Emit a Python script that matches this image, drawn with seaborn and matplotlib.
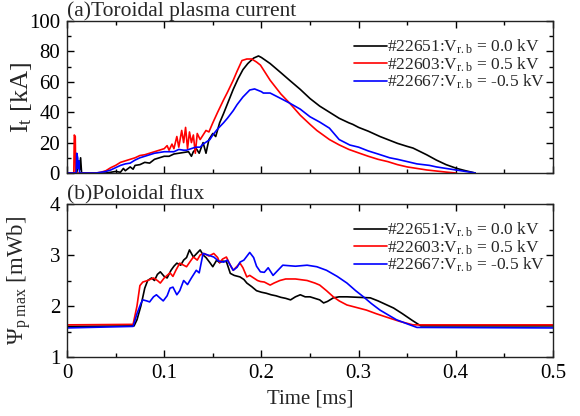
import numpy as np
import pandas as pd
import matplotlib
matplotlib.use("Agg")
import matplotlib.pyplot as plt
from matplotlib.ticker import MultipleLocator
import seaborn as sns

# ---------------- data ----------------
labels = ["#22651:V$_\\mathrm{r.b}$ = 0.0 kV",
          "#22603:V$_\\mathrm{r.b}$ = 0.5 kV",
          "#22667:V$_\\mathrm{r.b}$ = -0.5 kV"]
colors = ["black", "red", "blue"]

# (a) toroidal plasma current [kA]
t_a_22651 = [0, 0.010, 0.012, 0.013, 0.014, 0.015, 0.02, 0.03, 0.04, 0.045, 0.05, 0.055, 0.058, 0.06, 0.065,
             0.068, 0.07, 0.075, 0.08, 0.085, 0.09, 0.095, 0.1, 0.105, 0.11, 0.115, 0.12, 0.125, 0.128, 0.13,
             0.133, 0.136, 0.14, 0.143, 0.146, 0.15, 0.153, 0.157, 0.161, 0.166, 0.171, 0.176, 0.181,
             0.186, 0.192, 0.197, 0.2, 0.209, 0.22, 0.229, 0.24, 0.25, 0.26, 0.27, 0.28, 0.29, 0.294, 0.3,
             0.31, 0.322, 0.33, 0.34, 0.35, 0.356, 0.37, 0.38, 0.39, 0.401, 0.41, 0.42]
i_a_22651 = [0, 0, 8, 2, 10, 0, 0, 0, 0, 0.5, 1, 0.5, 3, 1.5, 4,
             2.5, 5, 5.5, 7, 6.5, 9, 10, 11, 11, 12.5, 13, 13.5, 14, 11, 14,
             16, 13, 20, 13, 22, 26, 24, 33, 39, 47, 55, 62, 68,
             72, 75.6, 77, 76, 72, 66, 61, 55, 49, 44, 40, 36, 33, 32, 30,
             27.5, 24, 22, 19.5, 17.5, 16.4, 12, 8.5, 5.5, 3, 1.5, 0]

t_a_22603 = [0, 0.007, 0.0075, 0.0085, 0.009, 0.02, 0.03, 0.035, 0.04, 0.045, 0.05, 0.055, 0.06, 0.065, 0.07,
             0.075, 0.08, 0.085, 0.09, 0.095, 0.1, 0.103, 0.105, 0.108, 0.11, 0.113, 0.115, 0.118, 0.12,
             0.122, 0.124, 0.126, 0.128, 0.13, 0.132, 0.134, 0.137, 0.14, 0.143, 0.146, 0.15, 0.155, 0.161,
             0.165, 0.171, 0.175, 0.18, 0.185, 0.19, 0.195, 0.199, 0.205, 0.209, 0.22, 0.229, 0.24, 0.25,
             0.257, 0.27, 0.28, 0.29, 0.301, 0.31, 0.32, 0.33, 0.34, 0.35, 0.36, 0.37, 0.38, 0.39, 0.40]
i_a_22603 = [0, 0, 25, 24, 0, 0, 0, 0.5, 1.5, 3.5, 5, 7, 8, 9, 10,
             11.5, 12, 13, 14, 15, 16, 18, 15, 19, 16, 24, 17, 28, 20,
             30, 16, 27, 20, 25, 13, 26, 22, 25, 28, 27, 33, 40, 48,
             53, 61, 67, 74, 75, 75, 73, 71, 65, 61, 52, 46, 38, 32,
             28, 22, 18.5, 15.5, 13, 11, 9, 7.5, 5.5, 4, 3, 2, 1.3, 0.6, 0]

t_a_22667 = [0, 0.0095, 0.010, 0.011, 0.0115, 0.012, 0.013, 0.02, 0.03, 0.04, 0.045, 0.05, 0.055, 0.06,
             0.065, 0.07, 0.075, 0.08, 0.085, 0.09, 0.095, 0.1, 0.103, 0.11, 0.115, 0.12, 0.123, 0.13,
             0.133, 0.137, 0.14, 0.147, 0.15, 0.155, 0.161, 0.165, 0.171, 0.175, 0.181, 0.188, 0.193,
             0.2, 0.202, 0.209, 0.22, 0.229, 0.24, 0.25, 0.26, 0.27, 0.28, 0.291, 0.3, 0.31, 0.32,
             0.332, 0.34, 0.35, 0.36, 0.373, 0.38, 0.39, 0.40, 0.41, 0.42]
i_a_22667 = [0, 0, 13, 10, 3, 8, 0, 0, 0, 1, 2, 3.5, 5, 6,
             6.5, 8.5, 10, 11, 12, 13, 13.5, 14, 14, 14, 15.5, 15, 15, 16.5,
             17, 17, 19, 22, 25, 29, 33, 36, 41, 45, 50, 54.6, 55.3,
             53.5, 52.6, 52.6, 49, 46, 42, 37, 33.5, 29.5, 22, 18.4, 17, 14.5, 12.5,
             10, 9, 7.5, 6, 5, 4, 3, 2, 1, 0]

# (b) poloidal flux [mWb]
t_b_22651 = [0, 0.069, 0.072, 0.076, 0.08, 0.083, 0.087, 0.09, 0.093, 0.096, 0.1, 0.103, 0.107, 0.11,
             0.113, 0.117, 0.12, 0.123, 0.126, 0.13, 0.133, 0.137, 0.14, 0.143, 0.147, 0.15, 0.154,
             0.157, 0.16, 0.164, 0.168, 0.172, 0.178, 0.182, 0.185, 0.19, 0.195, 0.2, 0.205, 0.21,
             0.215, 0.22, 0.225, 0.23, 0.235, 0.24, 0.245, 0.25, 0.255, 0.26, 0.264, 0.268, 0.274,
             0.28, 0.288, 0.3, 0.312, 0.32, 0.336, 0.345, 0.355, 0.364, 0.5]
p_b_22651 = [1.6, 1.61, 1.73, 2.0, 2.35, 2.5, 2.55, 2.5, 2.62, 2.67, 2.58, 2.55, 2.7, 2.78,
             2.84, 2.8, 2.9, 2.95, 3.1, 2.96, 3.02, 3.1, 3.0, 2.95, 2.85, 2.77, 2.9,
             2.85, 2.88, 2.87, 2.64, 2.6, 2.57, 2.52, 2.45, 2.38, 2.3, 2.27, 2.25, 2.22,
             2.2, 2.17, 2.15, 2.12, 2.18, 2.22, 2.18, 2.18, 2.15, 2.12, 2.06, 2.09, 2.16,
             2.18, 2.18, 2.17, 2.16, 2.1, 1.96, 1.85, 1.72, 1.61, 1.61]

t_b_22603 = [0, 0.068, 0.072, 0.075, 0.078, 0.083, 0.089, 0.093, 0.096, 0.1, 0.103, 0.106, 0.109,
             0.112, 0.116, 0.12, 0.123, 0.127, 0.13, 0.134, 0.137, 0.141, 0.146, 0.151, 0.155, 0.157,
             0.16, 0.164, 0.168, 0.171, 0.175, 0.178, 0.181, 0.185, 0.188, 0.192, 0.196, 0.199, 0.203,
             0.207, 0.209, 0.213, 0.219, 0.225, 0.235, 0.247, 0.255, 0.26, 0.267, 0.274, 0.28, 0.288,
             0.298, 0.308, 0.318, 0.329, 0.342, 0.356, 0.5]
p_b_22603 = [1.63, 1.64, 2.0, 2.4, 2.47, 2.5, 2.55, 2.5, 2.45, 2.55, 2.6, 2.65, 2.58,
             2.7, 2.84, 2.8, 2.77, 2.88, 2.96, 2.9, 3.0, 3.03, 2.98, 3.03, 2.95, 2.85,
             2.92, 2.96, 2.8, 2.7, 2.78, 2.84, 2.75, 2.57, 2.6, 2.55, 2.5, 2.48, 2.47,
             2.43, 2.41, 2.45, 2.5, 2.53, 2.53, 2.5, 2.45, 2.41, 2.3, 2.18, 2.1, 2.02,
             1.97, 1.92, 1.85, 1.78, 1.7, 1.63, 1.63]

t_b_22667 = [0, 0.068, 0.072, 0.076, 0.078, 0.082, 0.085, 0.089, 0.092, 0.096, 0.099, 0.103, 0.106,
             0.109, 0.113, 0.116, 0.12, 0.124, 0.128, 0.133, 0.136, 0.14, 0.145, 0.151, 0.156, 0.161,
             0.165, 0.168, 0.171, 0.175, 0.178, 0.182, 0.188, 0.192, 0.195, 0.199, 0.203, 0.207, 0.212,
             0.217, 0.222, 0.235, 0.247, 0.257, 0.267, 0.278, 0.288, 0.297, 0.305, 0.313, 0.322, 0.33,
             0.339, 0.35, 0.36, 0.5]
p_b_22667 = [1.57, 1.6, 1.85, 2.05, 2.12, 2.1, 2.08, 2.18, 2.22, 2.15, 2.1, 2.2, 2.35,
             2.37, 2.22, 2.3, 2.5, 2.42, 2.55, 2.7, 2.65, 3.03, 3.0, 2.96, 2.88, 2.86,
             2.9, 2.8, 2.7, 2.76, 2.86, 2.9, 3.05, 2.95, 2.78, 2.67, 2.66, 2.75, 2.6,
             2.7, 2.8, 2.78, 2.8, 2.77, 2.7, 2.58, 2.45, 2.3, 2.18, 2.05, 1.92, 1.83,
             1.73, 1.65, 1.58, 1.57]

x_ticks = [0, 0.1, 0.2, 0.3, 0.4, 0.5]
x_ticklabels = ["0", "0.1", "0.2", "0.3", "0.4", "0.5"]
ya_ticks = [0, 20, 40, 60, 80, 100]
yb_ticks = [1, 2, 3, 4]

# ---------------- build tables ----------------
def long_table(ts, vs):
    frames = []
    for lab, t, v in zip(labels, ts, vs):
        frames.append(pd.DataFrame({"t": t, "v": v, "shot": lab}))
    return pd.concat(frames, ignore_index=True)

df_a = long_table([t_a_22651, t_a_22603, t_a_22667], [i_a_22651, i_a_22603, i_a_22667])
df_b = long_table([t_b_22651, t_b_22603, t_b_22667], [p_b_22651, p_b_22603, p_b_22667])
palette = dict(zip(labels, colors))

# ---------------- style ----------------
sns.set_theme(style="ticks")
plt.rcParams["font.family"] = ["Liberation Serif", "DejaVu Serif"]
plt.rcParams["mathtext.fontset"] = "custom"
plt.rcParams["mathtext.rm"] = "Liberation Serif"
plt.rcParams["mathtext.it"] = "Liberation Serif:italic"
plt.rcParams["axes.linewidth"] = 1.0

fig = plt.figure(figsize=(5.8, 4.16), dpi=100)
ax_a = fig.add_axes([67 / 580, 1 - 173 / 416, 486 / 580, 152 / 416])
ax_b = fig.add_axes([67 / 580, 1 - 357 / 416, 486 / 580, 153 / 416])

for ax, df in ((ax_a, df_a), (ax_b, df_b)):
    sns.lineplot(data=df, x="t", y="v", hue="shot", hue_order=labels, palette=palette,
                 estimator=None, sort=False, linewidth=1.2, ax=ax)
    h, l = ax.get_legend_handles_labels()
    ax.legend(h, l, loc="upper right", bbox_to_anchor=(0.9835, 0.89), frameon=False,
              fontsize=12.5, handlelength=1.9, handletextpad=0.0, labelspacing=-0.05,
              borderaxespad=0.0, borderpad=0.0)
    ax.set_xlim(0, 0.5)
    ax.set_xticks(x_ticks)
    ax.xaxis.set_minor_locator(MultipleLocator(0.05))
    ax.tick_params(which="both", direction="in", top=True, right=True, labelsize=15,
                   colors="black", width=1.0)
    ax.tick_params(which="major", length=5, pad=5)
    ax.tick_params(which="minor", length=3)
    for s in ax.spines.values():
        s.set_color("#222222")

ax_a.set_ylim(0, 100)
ax_a.set_yticks(ya_ticks)
ax_a.yaxis.set_minor_locator(MultipleLocator(10))
ax_a.set_xticklabels([])
ax_a.set_xlabel("")
ax_a.set_ylabel("I$_\\mathrm{t}$ [kA]", fontsize=19)
ax_a.yaxis.set_label_coords(-0.068, 0.5)
ax_a.set_title("(a)Toroidal plasma current", loc="left", fontsize=15.5, pad=2.5, x=0.0)

ax_b.set_ylim(1, 4)
ax_b.set_yticks(yb_ticks)
ax_b.yaxis.set_minor_locator(MultipleLocator(0.5))
ax_b.set_xticklabels(x_ticklabels)
ax_b.set_xlabel("Time [ms]", fontsize=15, labelpad=5)
ax_b.set_ylabel("Ψ$_\\mathrm{p\\ max}$ [mWb]", fontsize=16.5)
ax_b.yaxis.set_label_coords(-0.07, 0.5)
ax_b.set_title("(b)Poloidal flux", loc="left", fontsize=15.5, pad=2.5, x=0.0)

fig.savefig("out.png", dpi=100)
